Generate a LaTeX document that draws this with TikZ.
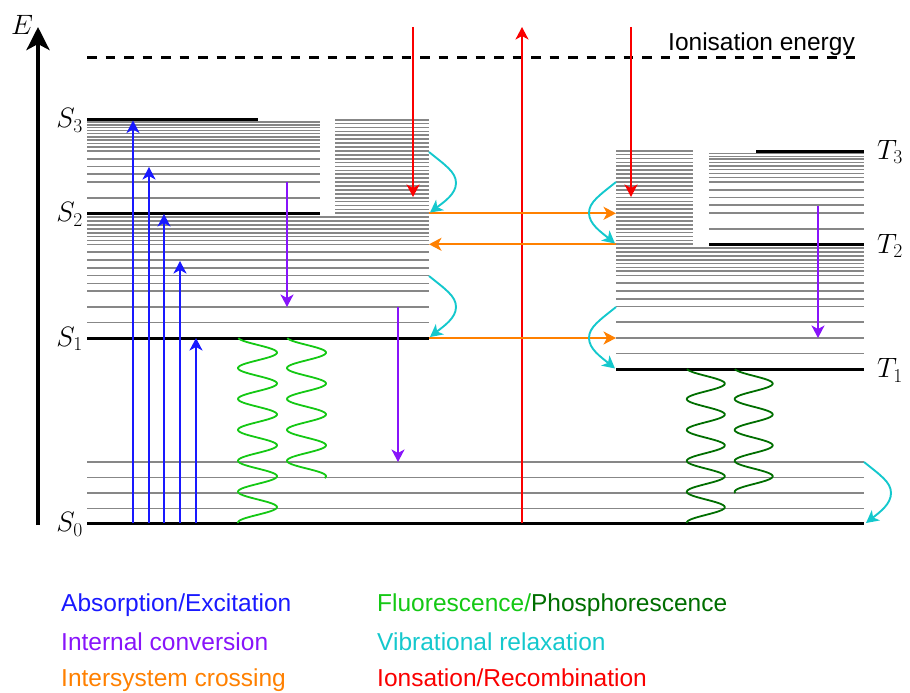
\RequirePackage{fix-cm}
\documentclass[tikz,border=0pt]{standalone}
\usepackage{fontspec}
\setsansfont{Liberation Sans}
\usetikzlibrary{arrows.meta}
\definecolor{absblue}{RGB}{25,25,255}
\definecolor{icpurple}{RGB}{136,20,250}
\definecolor{iscorange}{RGB}{255,128,0}
\definecolor{vrcyan}{RGB}{20,200,205}
\definecolor{ionred}{RGB}{250,0,0}
\definecolor{flgreen}{RGB}{20,200,20}
\definecolor{phgreen}{RGB}{0,110,0}
\definecolor{levgray}{RGB}{135,135,135}
\tikzset{
  lev/.style={draw=levgray, line width=1.7pt},
  elev/.style={draw=black, line width=3pt},
  proc/.style={line width=1.9pt, -{Stealth[length=12.5pt,width=13pt,inset=3.5pt]}},
  wave/.style={line width=1.8pt},
  lbl/.style={inner sep=0pt, font=\fontsize{28}{30}\selectfont},
  leg/.style={inner sep=0pt, anchor=base west, font=\sffamily\fontsize{24.5}{28}\selectfont},
}
\begin{document}
\begin{tikzpicture}[x=1pt,y=-1pt]
\useasboundingbox (0,0) rectangle (910,693);

% ---------- vibrational levels (gray) ----------
\foreach \y in {462,477.5,493,508.5} \draw[lev] (87,\y) -- (864,\y);
\foreach \y in {322.4,306.8,291.2,283.4,275.6,267.8,260,252.2,244.4,240.5,236.6,232.7,228.8,224.9,221.0,217.2}
  \draw[lev] (87,\y) -- (429,\y);
\foreach \y in {197.7,182.1,174.3,166.5,158.7,150.9,147,143.5,140,136.7,133.4,130.4,127.6,124.8,121.8}
  \draw[lev] (87,\y) -- (320,\y);
\foreach \k in {0,...,24} \draw[lev] (335,213.3-3.9*\k) -- (429,213.3-3.9*\k);
\foreach \y in {353.4,337.8,322.2,306.6,298.8,291,283.2,275.4,271.3,267.5,263.6,259.7,255.8,251.9,248}
  \draw[lev] (616,\y) -- (864,\y);
\foreach \y in {228.7,213.1,205.3,197.5,189.7,181.9,177.5,173.5,169.5,165.9,162.4,159.3,156.4,153.5}
  \draw[lev] (709,\y) -- (864,\y);
\foreach \k in {0,...,24} \draw[lev] (616,244.3-3.9*\k) -- (693,244.3-3.9*\k);

% ---------- electronic levels (black) ----------
\draw[elev] (87,523.3) -- (864,523.3);
\draw[elev] (87,338) -- (429,338);
\draw[elev] (87,213.3) -- (320,213.3);
\draw[elev] (87,119.3) -- (258,119.3);
\draw[elev] (616,369) -- (864,369);
\draw[elev] (709,244.3) -- (864,244.3);
\draw[elev] (756,151) -- (864,151);

% ---------- energy axis & ionisation ----------
\coordinate (ax0) at (38,525);
\coordinate (ax1) at (38,27);
\draw[line width=4pt, -{Stealth[length=23pt,width=23pt,inset=6pt]}] (ax0) -- (ax1);
\node[lbl, anchor=base] (E) at (22,35) {$E$};
\coordinate (ionL) at (87,58);
\coordinate (ionR) at (863,58);
\draw[line width=3pt, dash pattern=on 9.5pt off 9pt] (ionL) -- (ionR);
\node[leg] (ionlbl) at (668,50.7) {Ionisation energy};

% ---------- state labels ----------
\node[lbl, anchor=base east] (S0) at (83,531.8) {$S_0$};
\node[lbl, anchor=base east] (S1) at (83,346.5) {$S_1$};
\node[lbl, anchor=base east] (S2) at (83,221.8) {$S_2$};
\node[lbl, anchor=base east] (S3) at (83,127.8) {$S_3$};
\node[lbl, anchor=base west] (T1) at (877,377.8) {$T_1$};
\node[lbl, anchor=base west] (T2) at (877,253) {$T_2$};
\node[lbl, anchor=base west] (T3) at (877,159.5) {$T_3$};

% ---------- absorption ----------
\foreach \x/\yt [count=\i] in {133/120.5,149/167,164/214,180/261,196/338}{
  \coordinate (a\i s) at (\x,523.3);
  \coordinate (a\i e) at (\x,\yt);
  \draw[proc, absblue] (a\i s) -- (a\i e);
}

% ---------- internal conversion ----------
\coordinate (ic1s) at (287,182); \coordinate (ic1e) at (287,307);
\coordinate (ic2s) at (398,307); \coordinate (ic2e) at (398,462);
\coordinate (ic3s) at (818,206); \coordinate (ic3e) at (818,338);
\draw[proc, icpurple] (ic1s) -- (ic1e);
\draw[proc, icpurple] (ic2s) -- (ic2e);
\draw[proc, icpurple] (ic3s) -- (ic3e);

% ---------- ionisation / recombination ----------
\coordinate (r1s) at (413,27);  \coordinate (r1e) at (413,197);
\coordinate (r2s) at (522,523.3); \coordinate (r2e) at (522,27);
\coordinate (r3s) at (631,27);  \coordinate (r3e) at (631,197);
\draw[proc, ionred] (r1s) -- (r1e);
\draw[proc, ionred] (r2s) -- (r2e);
\draw[proc, ionred] (r3s) -- (r3e);

% ---------- intersystem crossing ----------
\coordinate (o1s) at (429,213.3); \coordinate (o1e) at (616,213.3);
\coordinate (o2s) at (616,244.3); \coordinate (o2e) at (429,244.3);
\coordinate (o3s) at (429,338);   \coordinate (o3e) at (616,338);
\draw[proc, iscorange] (o1s) -- (o1e);
\draw[proc, iscorange] (o2s) -- (o2e);
\draw[proc, iscorange] (o3s) -- (o3e);

% ---------- vibrational relaxation ----------
\coordinate (v1s) at (429,152);  \coordinate (v1e) at (430,212.5);
\draw[proc, vrcyan] (v1s) .. controls (445,165) and (456,172) .. (456,183) .. controls (456,194) and (444,202) .. (v1e);
\coordinate (v2s) at (429,276);  \coordinate (v2e) at (430,337);
\draw[proc, vrcyan] (v2s) .. controls (445,289) and (456,296) .. (456,307) .. controls (456,318) and (444,326) .. (v2e);
\coordinate (v3s) at (616,182);  \coordinate (v3e) at (615,243.5);
\draw[proc, vrcyan] (v3s) .. controls (600,195) and (589,202) .. (589,213) .. controls (589,224) and (601,232) .. (v3e);
\coordinate (v4s) at (616,307);  \coordinate (v4e) at (615,368.5);
\draw[proc, vrcyan] (v4s) .. controls (600,320) and (589,327) .. (589,338) .. controls (589,349) and (601,357) .. (v4e);
\coordinate (v5s) at (864,462);  \coordinate (v5e) at (866,523);
\draw[proc, vrcyan] (v5s) .. controls (880,475) and (891,482) .. (891,493) .. controls (891,504) and (880,512) .. (v5e);

% ---------- fluorescence / phosphorescence ----------
\draw[wave, flgreen] plot[domain=338:523, samples=220, variable=\t] ({257.5+19.5*sin((\t-338)*11.65-80)}, \t);
\draw[wave, flgreen] plot[domain=338:478, samples=180, variable=\t] ({306.5+19.5*sin((\t-338)*11.65-80)}, \t);
\draw[wave, phgreen] plot[domain=369:523, samples=200, variable=\t] ({705.8+19*sin((\t-369)*11.65-80)}, \t);
\draw[wave, phgreen] plot[domain=369:493, samples=170, variable=\t] ({753.7+19*sin((\t-369)*11.65-80)}, \t);

% ---------- legend ----------
\node[leg, text=absblue] (l1) at (61,611.7) {Absorption/Excitation};
\node[leg, text=icpurple] (l2) at (61,650) {Internal conversion};
\node[leg, text=iscorange] (l3) at (61,686.7) {Intersystem crossing};
\node[leg] (l4) at (377,611.7) {\textcolor{flgreen}{Fluorescence/}\textcolor{phgreen}{Phosphorescence}};
\node[leg, text=vrcyan] (l5) at (377,650) {Vibrational relaxation};
\node[leg, text=ionred] (l6) at (377,686.7) {Ionsation/Recombination};
\end{tikzpicture}
\end{document}
